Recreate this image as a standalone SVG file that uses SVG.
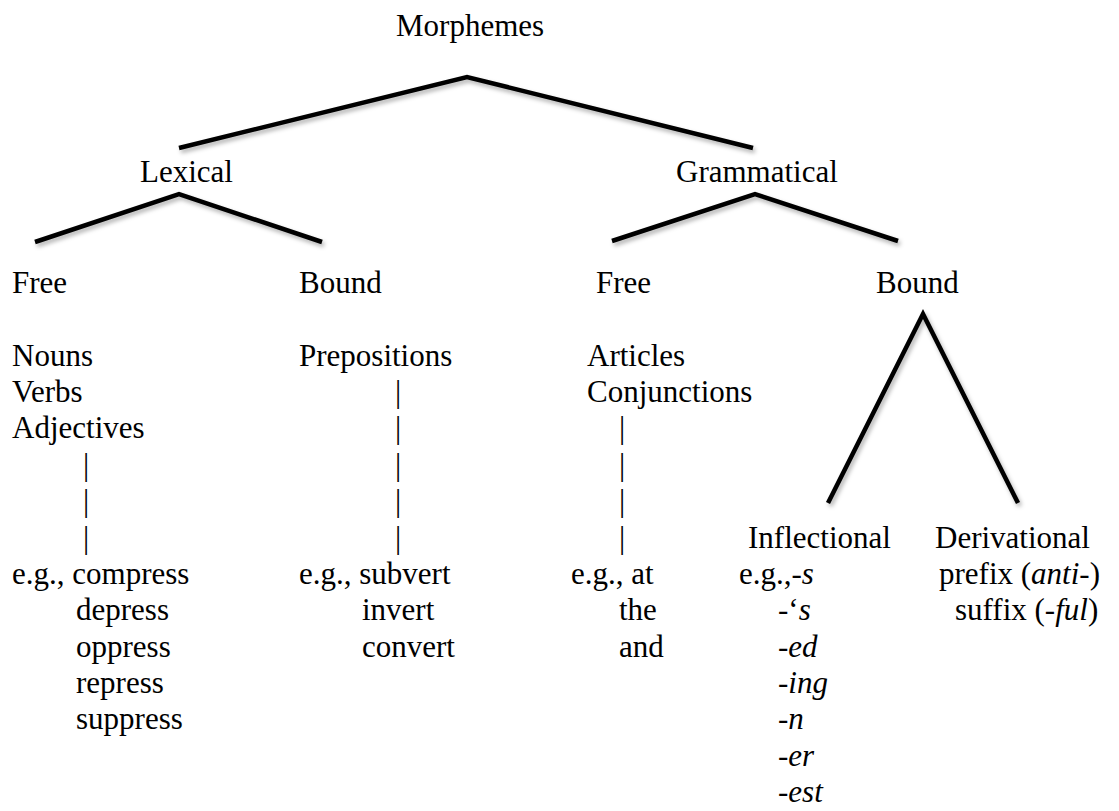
<svg xmlns="http://www.w3.org/2000/svg" width="1119" height="811" viewBox="0 0 1119 811">
<style>
text{font-family:"Liberation Serif","Times New Roman",serif;font-size:31px;fill:#000}
.i{font-style:italic}
.br{fill:none;stroke:#000;stroke-width:4.5}
</style>
<defs>
<filter id="sh" x="-10%" y="-10%" width="120%" height="130%">
<feDropShadow dx="2" dy="3" stdDeviation="2" flood-color="#000" flood-opacity="0.3"/>
</filter>
</defs>
<rect width="1119" height="811" fill="#fff"/>
<g id="connectors" filter="url(#sh)">
<polyline class="br" points="179,148 467,77 753,148"/>
<polyline class="br" points="35,242 179,194 322,242"/>
<polyline class="br" points="612,241 755,194 898,241"/>
<polyline class="br" points="828,503 923,314 1018,503"/>
</g>
<g id="n-morphemes"><text x="396" y="36">Morphemes</text></g>
<g id="n-lexical"><text x="140" y="182">Lexical</text></g>
<g id="n-grammatical"><text x="676" y="182">Grammatical</text></g>
<g id="n-lex-free">
<text x="12" y="293">Free</text>
<text x="12" y="366">Nouns</text>
<text x="12" y="402">Verbs</text>
<text x="12" y="438">Adjectives</text>
<text x="83" y="475">|</text>
<text x="83" y="511">|</text>
<text x="83" y="548">|</text>
<text x="12" y="584">e.g., compress</text>
<text x="76" y="620">depress</text>
<text x="76" y="657">oppress</text>
<text x="76" y="693">repress</text>
<text x="76" y="729">suppress</text>
</g>
<g id="n-lex-bound">
<text x="299" y="293">Bound</text>
<text x="299" y="366">Prepositions</text>
<text x="395" y="402">|</text>
<text x="395" y="438">|</text>
<text x="395" y="475">|</text>
<text x="395" y="511">|</text>
<text x="395" y="548">|</text>
<text x="299" y="584">e.g., subvert</text>
<text x="362" y="620">invert</text>
<text x="362" y="657">convert</text>
</g>
<g id="n-gram-free">
<text x="596" y="293">Free</text>
<text x="587" y="366">Articles</text>
<text x="587" y="402">Conjunctions</text>
<text x="619" y="438">|</text>
<text x="619" y="475">|</text>
<text x="619" y="511">|</text>
<text x="619" y="548">|</text>
<text x="571" y="584">e.g., at</text>
<text x="619" y="620">the</text>
<text x="619" y="657">and</text>
</g>
<g id="n-gram-bound"><text x="876" y="293">Bound</text></g>
<g id="n-inflectional">
<text x="748" y="548">Inflectional</text>
<text x="739" y="584">e.g.,-<tspan class="i">s</tspan></text>
<text x="778" y="620">-‘<tspan class="i">s</tspan></text>
<text x="778" y="657">-<tspan class="i">ed</tspan></text>
<text x="778" y="693">-<tspan class="i">ing</tspan></text>
<text x="778" y="729">-<tspan class="i">n</tspan></text>
<text x="778" y="766">-<tspan class="i">er</tspan></text>
<text x="778" y="802">-<tspan class="i">est</tspan></text>
</g>
<g id="n-derivational">
<text x="935" y="548">Derivational</text>
<text x="939" y="584">prefix (<tspan class="i">anti</tspan>-)</text>
<text x="955" y="620">suffix (<tspan class="i">-ful</tspan>)</text>
</g>
</svg>
